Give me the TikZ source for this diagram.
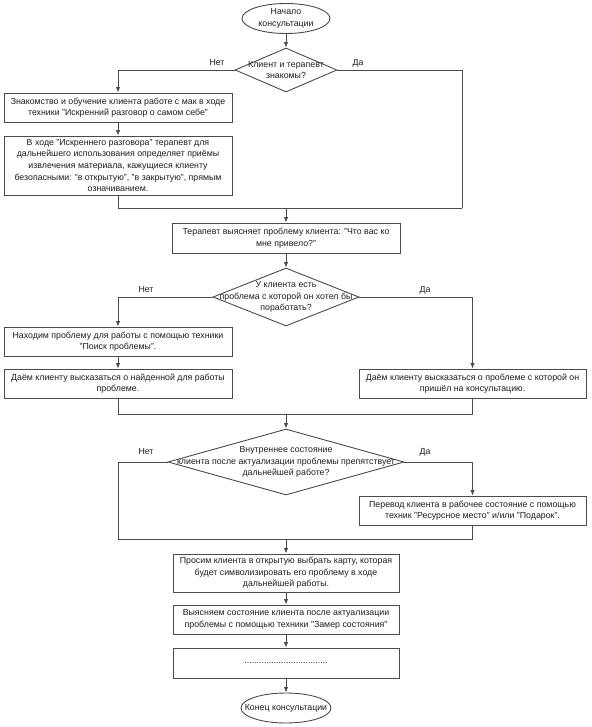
\documentclass[tikz,border=0pt]{standalone}
\usepackage{fontspec}
\setmainfont{Liberation Sans}
\usetikzlibrary{shapes.geometric,arrows.meta}
\definecolor{ln}{RGB}{75,75,75}
\definecolor{tx}{RGB}{30,30,30}
\begin{document}
\begin{tikzpicture}[x=1pt,y=-1pt,
  every node/.style={text=tx},
  txt/.style={font=\fontsize{8.8}{11.6}\selectfont, align=center},
  box/.style={txt, draw=ln, line width=0.9pt, fill=white, rectangle, minimum width=#1, inner sep=1pt},
  box/.default=228pt,
  term/.style={txt, draw=ln, line width=0.9pt, ellipse, inner sep=0pt},
  dia/.style={draw=ln, line width=0.9pt, diamond, inner sep=0pt},
  lab/.style={txt},
  ar/.style={draw=ln, line width=0.9pt, -{Latex[length=5.5pt,width=4.5pt]}},
  ln/.style={draw=ln, line width=0.9pt}]
\useasboundingbox (0,0) rectangle (591,727);

\node[term, minimum width=88pt, minimum height=30pt] (e1) at (286,18.5) {Начало\\консультации};
\node[dia, minimum width=102pt, minimum height=44pt, label={[txt]center:Клиент и терапевт\\знакомы?}] (d1) at (286,70) {};
\node[box, minimum height=29pt] (b1) at (118,107.5) {Знакомство и обучение клиента работе с мак в ходе\\техники "Искренний разговор о самом себе"};
\node[box, minimum height=59pt] (b2) at (118,165.5) {В ходе "Искреннего разговора" терапевт для\\дальнейшего использования определяет приёмы\\извлечения материала, кажущиеся клиенту\\безопасными: "в открытую", "в закрытую", прямым\\означиванием.};
\coordinate (m1) at (462,208);
\coordinate (j1) at (286,208);
\node[box, minimum height=30pt] (b3) at (286,238) {Терапевт выясняет проблему клиента: "Что вас ко\\мне привело?"};
\node[dia, minimum width=146pt, minimum height=58pt, label={[txt]center:У клиента есть\\проблема с которой он хотел бы\\поработать?}] (d2) at (286,297) {};
\node[box, minimum height=29pt] (b4) at (118,341.5) {Находим проблему для работы с помощью техники\\"Поиск проблемы".};
\node[box, minimum height=29pt] (b5) at (118,383.5) {Даём клиенту высказаться о найденной для работы\\проблеме.};
\node[box=227pt, minimum height=29pt] (b6) at (472.5,383.5) {Даём клиенту высказаться о проблеме с которой он\\пришёл на консультацию.};
\coordinate (j2) at (286,414);
\node[dia, minimum width=236pt, minimum height=66pt, label={[txt]center:Внутреннее состояние\\клиента после актуализации проблемы препятствует\\дальнейшей работе?}] (d3) at (286,462) {};
\node[box=227pt, minimum height=29pt] (b7) at (472.5,510.5) {Перевод клиента в рабочее состояние с помощью\\техник "Ресурсное место" и/или "Подарок".};
\coordinate (m3) at (118,539);
\coordinate (j3) at (286,539);
\node[box=226pt, minimum height=38pt] (b8) at (286,573) {Просим клиента в открытую выбрать карту, которая\\будет символизировать его проблему в ходе\\дальнейшей работы.};
\node[box=226pt, minimum height=29pt] (b9) at (286,619.5) {Выясняем состояние клиента после актуализации\\проблемы с помощью техники "Замер состояния"};
\node[box=226pt, minimum height=30pt] (b10) at (286,663) {..................................};
\node[term, minimum width=90pt, minimum height=30pt, label={[txt]center:Конец консультации}] (e2) at (286,708) {};

\node[lab] (n1) at (217,63) {Нет};
\node[lab] (y1) at (358,63) {Да};
\node[lab] (n2) at (146,290) {Нет};
\node[lab] (y2) at (425,290) {Да};
\node[lab] (n3) at (146,452) {Нет};
\node[lab] (y3) at (425,452) {Да};

\draw[ar] (e1) -- (d1);
\draw[ar] (d1.west) -| (b1.north);
\draw[ln] (d1.east) -| (m1);
\draw[ar] (b1) -- (b2);
\draw[ln] (b2.south) |- (m1);
\draw[ar] (j1) -- (b3.north);
\draw[ar] (b3) -- (d2);
\draw[ar] (d2.west) -| (b4.north);
\draw[ar] (d2.east) -| (b6.north);
\draw[ar] (b4) -- (b5);
\draw[ln] (b5.south) |- (b6.south |- j2) -- (b6.south);
\draw[ar] (j2) -- (d3.north);
\draw[ln] (d3.west) -| (m3) -- (b7.south |- m3) -- (b7.south);
\draw[ar] (d3.east) -| (b7.north);
\draw[ar] (j3) -- (b8);
\draw[ar] (b8) -- (b9);
\draw[ar] (b9) -- (b10);
\draw[ar] (b10) -- (e2);
\end{tikzpicture}
\end{document}
